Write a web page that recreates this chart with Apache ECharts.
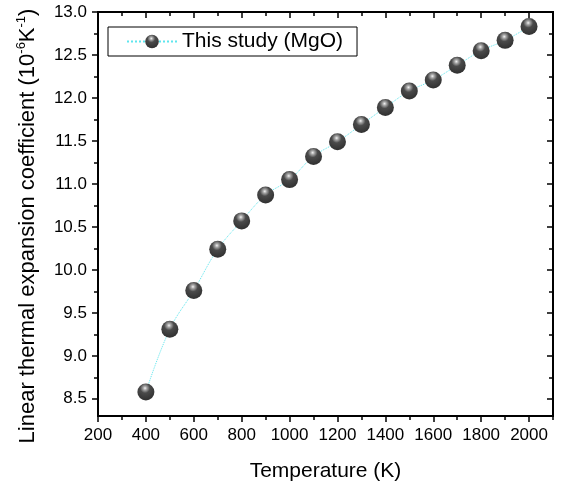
<!DOCTYPE html>
<html>
<head>
<meta charset="utf-8">
<script src="https://cdn.jsdelivr.net/npm/echarts@6/dist/echarts.min.js"></script>
<style>html,body{margin:0;padding:0;background:#fff;}#c{width:563px;height:490px;}</style>
</head>
<body>
<div id="c"></div>
<script>
const temperatures = [400, 500, 600, 700, 800, 900, 1000, 1100, 1200, 1300, 1400, 1500, 1600, 1700, 1800, 1900, 2000];
const alphaValues = [8.58, 9.31, 9.76, 10.24, 10.57, 10.87, 11.05, 11.32, 11.49, 11.69, 11.89, 12.08, 12.21, 12.38, 12.55, 12.67, 12.83];
const seriesName = 'This study (MgO)';
const xMajorTicks = [200, 400, 600, 800, 1000, 1200, 1400, 1600, 1800, 2000];
const xMinorTicks = [300, 500, 700, 900, 1100, 1300, 1500, 1700, 1900, 2100];
const yMajorTicks = [8.5, 9.0, 9.5, 10.0, 10.5, 11.0, 11.5, 12.0, 12.5, 13.0];
const yMinorTicks = [8.75, 9.25, 9.75, 10.25, 10.75, 11.25, 11.75, 12.25, 12.75];
const xRange = [200, 2100];
const yRange = [8.3, 13.0];

const FONT = '"Liberation Sans", Arial, sans-serif';
const chart = echarts.init(document.getElementById('c'), null, {renderer: 'canvas'});

function xAx(pos, ticks, len, inside, opts) {
  return Object.assign({
    type: 'value', position: pos, min: xRange[0], max: xRange[1],
    axisLine: {show: false},
    axisTick: {show: true, customValues: ticks, length: len, inside: inside, lineStyle: {color: '#000', width: 1.5}},
    axisLabel: {show: false},
    splitLine: {show: false}
  }, opts || {});
}
function yAx(pos, ticks, len, inside, opts) {
  return Object.assign({
    type: 'value', position: pos, min: yRange[0], max: yRange[1],
    axisLine: {show: false},
    axisTick: {show: true, customValues: ticks, length: len, inside: inside, lineStyle: {color: '#000', width: 1.5}},
    axisLabel: {show: false},
    splitLine: {show: false}
  }, opts || {});
}

const ballColor = {
  type: 'radial', x: 0.45, y: 0.28, r: 0.75,
  colorStops: [
    {offset: 0, color: '#f4f4f4'},
    {offset: 0.14, color: '#a8a8a8'},
    {offset: 0.38, color: '#4a4a4a'},
    {offset: 1, color: '#2e2e2e'}
  ]
};

const option = {
  backgroundColor: '#fff',
  animation: false,
  grid: {left: 98, right: 10, top: 12, bottom: 74, show: true, borderColor: '#000', borderWidth: 2, backgroundColor: 'transparent'},
  legend: {
    show: true, left: 108, top: 27,
    orient: 'horizontal',
    borderColor: '#000', borderWidth: 1, borderRadius: 0,
    padding: [4, 14, 4, 18],
    itemWidth: 50, itemHeight: 17,
    textStyle: {fontFamily: FONT, fontSize: 21, color: '#000'},
    data: [seriesName]
  },
  xAxis: [
    xAx('bottom', xMajorTicks, 6, false, {
      axisLabel: {show: true, customValues: xMajorTicks, fontFamily: FONT, fontSize: 17, color: '#000', margin: 11,
        formatter: v => String(v)},
      name: 'Temperature (K)', nameLocation: 'middle', nameGap: 45,
      nameTextStyle: {fontFamily: FONT, fontSize: 21, color: '#000'}
    }),
    xAx('bottom', xMinorTicks, 4, false),
    xAx('top', xMajorTicks, 6, true),
    xAx('top', xMinorTicks, 4, true)
  ],
  yAxis: [
    yAx('left', yMajorTicks, 6, false, {
      axisLabel: {show: true, customValues: yMajorTicks, fontFamily: FONT, fontSize: 17, color: '#000', margin: 11,
        formatter: v => v.toFixed(1)},
      name: '{n|Linear thermal expansion coefficient (10}{s|-6}{n|K}{s|-1}{n|)}',
      nameLocation: 'middle', nameGap: 57,
      nameTextStyle: {
        fontFamily: FONT, color: '#000',
        padding: [0, 24, 0, 0],
        rich: {
          n: {fontFamily: FONT, fontSize: 22, lineHeight: 26, color: '#000'},
          s: {fontFamily: FONT, fontSize: 13, lineHeight: 13, verticalAlign: 'top', color: '#000'}
        }
      }
    }),
    yAx('left', yMinorTicks, 4, false),
    yAx('right', yMajorTicks, 6, true),
    yAx('right', yMinorTicks, 4, true)
  ],
  series: [{
    name: seriesName,
    type: 'line',
    xAxisIndex: 0, yAxisIndex: 0,
    data: temperatures.map((t, i) => [t, alphaValues[i]]),
    smooth: 0.4,
    symbol: 'circle', symbolSize: 17,
    lineStyle: {color: '#5ee6ee', width: 1, type: 'dotted'},
    itemStyle: {color: ballColor, borderWidth: 0},
    z: 3
  }]
};
chart.setOption(option);
</script>
</body>
</html>
